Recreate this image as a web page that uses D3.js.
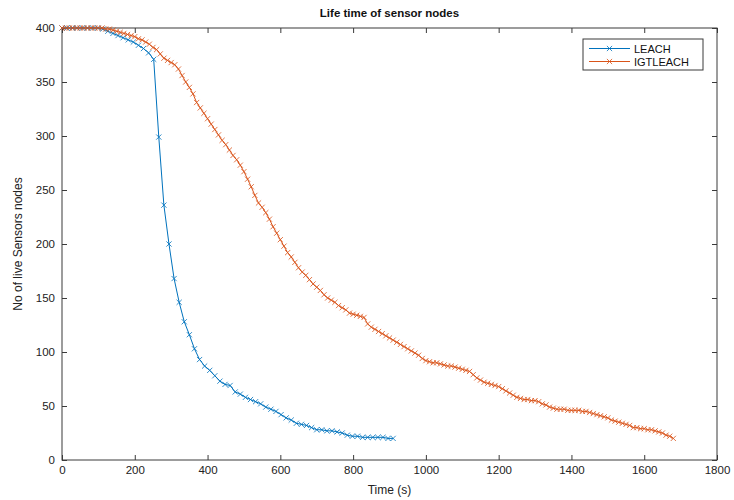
<!DOCTYPE html>
<html>
<head>
<meta charset="utf-8">
<script src="https://cdn.jsdelivr.net/npm/d3@7/dist/d3.min.js"></script>
<style>
  html, body { margin: 0; padding: 0; background: #fff; }
  svg { display: block; }
  text { font-family: "Liberation Sans", Arial, sans-serif; }
</style>
</head>
<body>
<svg id="chart" width="734" height="500"></svg>
<script>
// ---- data ----
const chartTitle = "Life time of sensor nodes";
const xLabel = "Time (s)";
const yLabel = "No of live Sensors nodes";
const seriesNames = ["LEACH", "IGTLEACH"];
const xTicks = [0, 200, 400, 600, 800, 1000, 1200, 1400, 1600, 1800];
const yTicks = [0, 50, 100, 150, 200, 250, 300, 350, 400];

// LEACH: sampled every 14 s from 0 to 910
const leachStep = 14;
const leachAlive = [
  400, 400, 400, 400, 400, 400, 400, 400,
  399, 397, 395, 393, 391, 389, 387, 384, 381, 377, 371,
  299, 236, 200, 168, 146, 128, 116, 103,
  93, 87, 83, 78, 73, 70, 69, 63, 61, 58, 56, 54, 52, 49, 47, 45,
  42, 39, 37, 34, 33, 32, 30, 28, 28, 27, 27, 26, 25, 23, 22, 22,
  21, 21, 21, 21, 21, 20, 20
];

// IGTLEACH: sampled every 10 s from 0 to 1680
const igtStep = 10;
const igtAlive = [
  400, 400, 400, 400, 400, 400, 400, 400, 400, 400,
  400, 400, 399, 399, 398, 397, 396, 395, 394, 393,
  392, 390, 389, 387, 385, 382, 380, 376, 372, 370,
  368, 366, 362, 356, 350, 345, 339, 331, 326, 321,
  316, 311, 306, 301, 296, 292, 287, 282, 278, 273,
  267, 260, 253, 245, 238, 234, 229, 223, 216, 210,
  204, 198, 192, 188, 183, 178, 174, 171, 167, 163,
  160, 157, 153, 150, 148, 146, 143, 141, 139, 136,
  135, 134, 133, 132, 126, 123, 121, 119, 117, 115,
  113, 111, 109, 107, 105, 103, 101, 99, 97, 94,
  92, 91, 90, 90, 89, 88, 87, 87, 86, 85,
  84, 83, 82, 79, 76, 74, 72, 71, 70, 69,
  68, 66, 64, 62, 60, 58, 57, 56, 56, 55,
  55, 54, 52, 51, 49, 48, 47, 47, 47, 46,
  46, 46, 46, 45, 45, 44, 43, 42, 41, 40,
  39, 37, 36, 35, 34, 33, 32, 30, 30, 29,
  29, 28, 28, 27, 26, 25, 23, 22, 20
];

const seriesColors = ["#0072BD", "#D95319"];

// ---- layout ----
const W = 734, H = 500;
const margin = { left: 62, right: 17, top: 28, bottom: 40 };
const svg = d3.select("#chart");
const innerW = W - margin.left - margin.right;
const innerH = H - margin.top - margin.bottom;

const x = d3.scaleLinear().domain([0, 1800]).range([margin.left, margin.left + innerW]);
const y = d3.scaleLinear().domain([0, 400]).range([margin.top + innerH, margin.top]);

const axisColor = "#3a3a3a";
const tickLen = 5;
const fmt = d3.format("d");

function styleAxis(g, showLabels) {
  g.select(".domain").remove();
  g.selectAll(".tick line").attr("stroke", axisColor).attr("stroke-width", 1);
  g.selectAll(".tick text")
    .attr("fill", "#222")
    .style("font-size", "11.5px")
    .style("font-family", "'Liberation Sans', Arial, sans-serif");
  if (!showLabels) g.selectAll(".tick text").remove();
}

// bottom axis
svg.append("g")
  .attr("transform", `translate(0,${y(0)})`)
  .call(d3.axisBottom(x).tickValues(xTicks).tickFormat(fmt).tickSizeInner(-tickLen).tickSizeOuter(0).tickPadding(6))
  .call(g => styleAxis(g, true));
// top axis (mirrored ticks)
svg.append("g")
  .attr("transform", `translate(0,${y(400)})`)
  .call(d3.axisTop(x).tickValues(xTicks).tickSizeInner(-tickLen).tickSizeOuter(0))
  .call(g => styleAxis(g, false));
// left axis
svg.append("g")
  .attr("transform", `translate(${x(0)},0)`)
  .call(d3.axisLeft(y).tickValues(yTicks).tickFormat(fmt).tickSizeInner(-tickLen).tickSizeOuter(0).tickPadding(7))
  .call(g => styleAxis(g, true));
// right axis
svg.append("g")
  .attr("transform", `translate(${x(1800)},0)`)
  .call(d3.axisRight(y).tickValues(yTicks).tickSizeInner(-tickLen).tickSizeOuter(0))
  .call(g => styleAxis(g, false));

// box
svg.append("rect")
  .attr("x", x(0)).attr("y", y(400))
  .attr("width", x(1800) - x(0)).attr("height", y(0) - y(400))
  .attr("fill", "none").attr("stroke", axisColor).attr("stroke-width", 1);

// ---- series ----
const leachData = leachAlive.map((v, i) => ({ t: i * leachStep, v }));
const igtData = igtAlive.map((v, i) => ({ t: i * igtStep, v }));
const allSeries = [leachData, igtData];

const line = d3.line().x(d => x(d.t)).y(d => y(d.v));
const mk = 2.6;
function crossPath(cx, cy) {
  return `M${cx - mk},${cy - mk}L${cx + mk},${cy + mk}M${cx - mk},${cy + mk}L${cx + mk},${cy - mk}`;
}

const plot = svg.append("g");
allSeries.forEach((data, si) => {
  plot.append("path")
    .datum(data)
    .attr("d", line)
    .attr("fill", "none")
    .attr("stroke", seriesColors[si])
    .attr("stroke-width", 1);
  plot.append("path")
    .attr("d", data.map(d => crossPath(x(d.t), y(d.v))).join(""))
    .attr("fill", "none")
    .attr("stroke", seriesColors[si])
    .attr("stroke-width", 0.8);
});

// ---- title & labels ----
svg.append("text")
  .attr("x", (x(0) + x(1800)) / 2).attr("y", 17)
  .attr("text-anchor", "middle")
  .style("font-size", "11.5px").style("font-weight", "bold")
  .attr("fill", "#111")
  .text(chartTitle);

svg.append("text")
  .attr("x", (x(0) + x(1800)) / 2).attr("y", 494)
  .attr("text-anchor", "middle")
  .style("font-size", "12px")
  .attr("fill", "#222")
  .text(xLabel);

svg.append("text")
  .attr("transform", `translate(22,${(y(0) + y(400)) / 2}) rotate(-90)`)
  .attr("text-anchor", "middle")
  .style("font-size", "12px")
  .attr("fill", "#222")
  .text(yLabel);

// ---- legend ----
const lg = svg.append("g");
lg.append("rect")
  .attr("x", 583).attr("y", 39).attr("width", 120).attr("height", 31)
  .attr("fill", "#fff").attr("stroke", axisColor).attr("stroke-width", 1);
seriesNames.forEach((name, i) => {
  const ly = 48.5 + i * 13;
  lg.append("line")
    .attr("x1", 589).attr("x2", 630).attr("y1", ly).attr("y2", ly)
    .attr("stroke", seriesColors[i]).attr("stroke-width", 1);
  lg.append("path")
    .attr("d", crossPath(609.5, ly))
    .attr("fill", "none").attr("stroke", seriesColors[i]).attr("stroke-width", 0.8);
  lg.append("text")
    .attr("x", 634).attr("y", ly + 4)
    .style("font-size", "11px")
    .attr("fill", "#111")
    .text(name);
});
</script>
</body>
</html>
